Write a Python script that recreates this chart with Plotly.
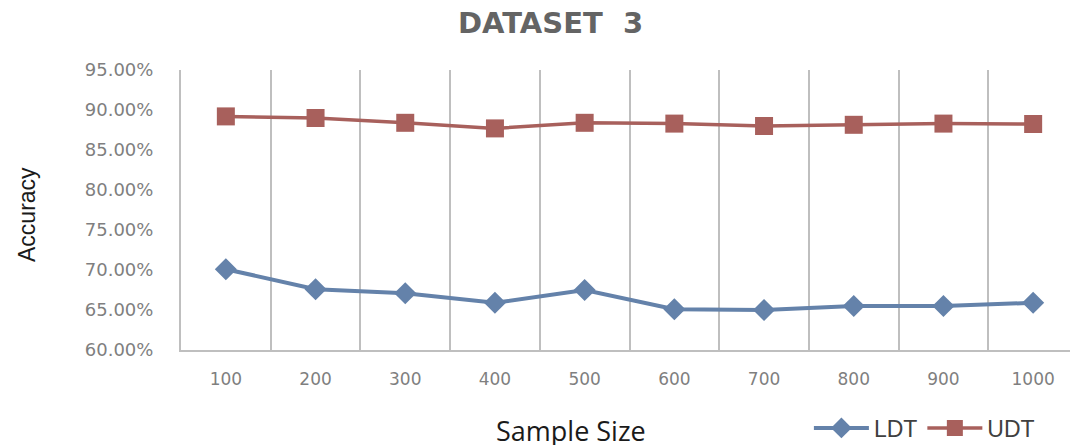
import plotly.graph_objects as go

# Data
sample_sizes = ["100", "200", "300", "400", "500", "600", "700", "800", "900", "1000"]
ldt = [70.1, 67.6, 67.1, 65.9, 67.5, 65.1, 65.0, 65.5, 65.5, 65.9]
udt = [89.2, 89.0, 88.4, 87.7, 88.4, 88.3, 88.0, 88.15, 88.3, 88.25]

blue = "#6482aa"
red = "#a8605c"
grey = "#bfbfbf"

fig = go.Figure()
fig.add_trace(go.Scatter(x=sample_sizes, y=ldt, name="LDT", mode="lines+markers",
                         line=dict(color=blue, width=4),
                         marker=dict(symbol="diamond", size=17, color=blue)))
fig.add_trace(go.Scatter(x=sample_sizes, y=udt, name="UDT", mode="lines+markers",
                         line=dict(color=red, width=3.5),
                         marker=dict(symbol="square", size=18, color=red)))

# page body has an 8px margin, so the figure is a bit smaller than the window
fig.update_layout(
    width=1070, height=437,
    margin=dict(l=173, r=0, t=62, b=95),
    plot_bgcolor="white", paper_bgcolor="white",
    showlegend=True,
    legend=dict(orientation="h", x=0.70, yref="container", y=1 - 420 / 437,
                xanchor="left", yanchor="middle", itemwidth=55,
                font=dict(family="Liberation Sans Narrow, Liberation Sans", size=23, color="#404040"),
                bgcolor="rgba(0,0,0,0)"),
    xaxis=dict(type="category", range=[-0.5, 9.5], tickson="boundaries", showgrid=True,
               gridcolor=grey, gridwidth=2, showline=True, linecolor=grey, linewidth=2, ticks="",
               ticklabelstandoff=13, automargin=False,
               tickfont=dict(family="DejaVu Sans", size=17, color="#7f7f7f")),
    yaxis=dict(range=[60, 95], dtick=5, tickformat=".2f", ticksuffix="%", showgrid=False,
               zeroline=False, showline=True, linecolor=grey, linewidth=2, ticks="",
               ticklabelstandoff=22, automargin=False,
               tickfont=dict(family="DejaVu Sans", size=18, color="#7f7f7f")),
)

fig.add_annotation(text="(c)", xref="paper", yref="paper", x=(551 - 181) / 897, y=1.262,
                   showarrow=False, xanchor="center", yanchor="middle",
                   font=dict(family="Liberation Sans", size=16, color="#595959"))
fig.add_annotation(text="<b>DATASET  3</b>", xref="paper", yref="paper", x=(550 - 181) / 897, y=1.168,
                   showarrow=False, xanchor="center", yanchor="middle",
                   font=dict(family="DejaVu Sans", size=29, color="#646464"))
fig.add_annotation(text="Sample Size", xref="paper", yref="paper", x=(571 - 181) / 897, y=-0.286,
                   showarrow=False, xanchor="center", yanchor="middle",
                   font=dict(family="Open Sans", size=27, color="#1a1a1a"))
fig.add_annotation(text="Accuracy", xref="paper", yref="paper", x=(27 - 181) / 897, y=(350 - 215) / 280,
                   textangle=-90, showarrow=False, xanchor="center", yanchor="middle",
                   font=dict(family="Liberation Sans Narrow, Liberation Sans", size=23, color="#1a1a1a"))

fig.write_html("out.html")
